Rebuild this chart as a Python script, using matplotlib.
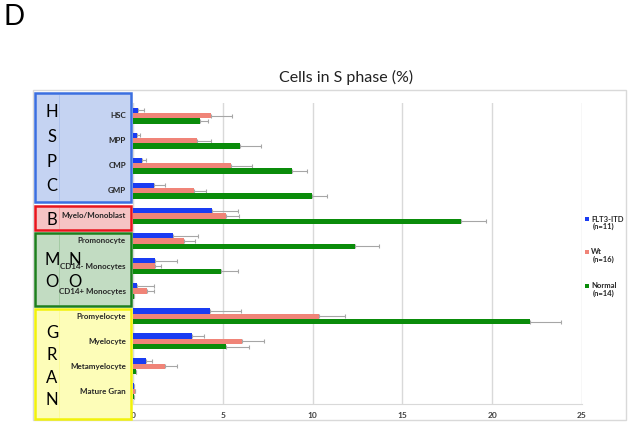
import matplotlib
matplotlib.use("Agg")
import matplotlib.pyplot as plt
import numpy as np
from matplotlib.patches import Rectangle
from matplotlib.lines import Line2D

plt.rcParams['font.family'] = ['Lato', 'DejaVu Sans']

# --- dados ---
categories = ['HSC', 'MPP', 'CMP', 'GMP', 'Myelo/Monoblast', 'Promonocyte',
              'CD14- Monocytes', 'CD14+ Monocytes', 'Promyelocyte', 'Myelocyte',
              'Metamyelocyte', 'Mature Gran']
flt3 = [0.28, 0.22, 0.52, 1.17, 4.42, 2.20, 1.20, 0.24, 4.31, 3.28, 0.72, 0.05]
flt3_err = [0.31, 0.18, 0.22, 0.61, 1.45, 1.41, 1.26, 0.94, 1.69, 0.68, 0.33, 0.0]
wt = [4.33, 3.54, 5.44, 3.42, 5.20, 2.83, 1.24, 0.79, 10.35, 6.05, 1.79, 0.10]
wt_err = [1.17, 0.81, 1.17, 0.65, 0.72, 0.63, 0.31, 0.38, 1.48, 1.23, 0.67, 0.0]
normal = [3.72, 5.94, 8.83, 9.94, 18.29, 12.37, 4.92, 0.07, 22.09, 5.18, 0.18, 0.03]
normal_err = [0.48, 1.20, 0.87, 0.86, 1.38, 1.30, 0.95, 0.0, 1.72, 1.26, 0.0, 0.0]
series_names = ['FLT3-ITD', 'Wt', 'Normal']
series_n = ['(n=11)', '(n=16)', '(n=14)']
xticks = [0, 5, 10, 15, 20, 25]

# grupos (caixas coloridas a esquerda)
groups = [
    {'letters': [('H', 0, 0), ('S', 0, 1), ('P', 0, 2), ('C', 0, 3)], 'rows': (0, 3)},
]

colors = ['#1a3cf2', '#f08478', '#0a8c0a']

W, H = 632, 426
fig = plt.figure(figsize=(W / 100, H / 100), dpi=100)


def fx(px):
    return px / W


def fy(py):
    return 1 - py / H


# borda da area do grafico
fig.add_artist(Rectangle((fx(33), fy(420)), fx(626) - fx(33), fy(90) - fy(420),
                         transform=fig.transFigure, fill=False, ec='#d9d9d9', lw=1))

ax = fig.add_axes([fx(133), fy(404), fx(582) - fx(133), fy(103) - fy(404)])

y = np.arange(len(categories))
h = 0.212
ekw = dict(fmt='none', ecolor='#a6a6a6', elinewidth=0.8, capsize=1.2, capthick=0.8)
for i, (vals, errs) in enumerate([(flt3, flt3_err), (wt, wt_err), (normal, normal_err)]):
    pos = y + (i - 1) * h
    ax.barh(pos, vals, height=h, color=colors[i], zorder=3)
    ax.errorbar(vals, pos, xerr=[np.zeros(len(errs)), errs], zorder=2, **ekw)

ax.set_xlim(0, 25)
ax.set_ylim(len(categories) - 0.5, -0.5)
ax.set_xticks(xticks)
ax.set_xticklabels([str(t) for t in xticks], fontsize=6, fontweight='bold', color='#404040')
ax.tick_params(axis='x', length=0, pad=6)
ax.set_yticks([])
ax.grid(axis='x', color='#d9d9d9', lw=1, zorder=0)
for s in ['top', 'right']:
    ax.spines[s].set_visible(False)
ax.spines['bottom'].set_color('#d9d9d9')
ax.spines['left'].set_color('#d9d9d9')

# titulo e letra do painel
fig.text(fx(346), fy(77), 'Cells in S phase (%)', fontsize=11.5, ha='center', va='center', color='#222222')
fig.text(fx(4), fy(17), 'D', fontsize=20, ha='left', va='center')

# caixas
boxes = [
    (93, 202, '#c5d3f2', '#3b6fe0'),
    (206, 230, '#f6c4c4', '#e8141c'),
    (233, 306, '#c2dcc2', '#1d7f1d'),
    (309, 419, '#fdfdb8', '#f2f20a'),
]
for top, bot, fc, ec in boxes:
    fig.add_artist(Rectangle((fx(35), fy(bot)), fx(131) - fx(35), fy(top) - fy(bot),
                             transform=fig.transFigure, fc=fc, ec=ec, lw=1.8, zorder=5))
    fig.add_artist(Line2D([fx(59), fx(59)], [fy(bot - 2), fy(top + 2)], transform=fig.transFigure,
                          color=ec, lw=0.5, alpha=0.25, zorder=6))

letters = [('H', 52, 112), ('S', 52, 137), ('P', 52, 162), ('C', 52, 186),
           ('B', 52, 220),
           ('M', 52, 260), ('N', 75, 260), ('O', 52, 282), ('O', 75, 282),
           ('G', 52, 333), ('R', 52, 355), ('A', 52, 378), ('N', 52, 400)]
for t, px, py in letters:
    fig.text(fx(px), fy(py), t, fontsize=12, ha='center', va='center', zorder=7)

# rotulos das categorias
for i, c in enumerate(categories):
    yp = ax.transData.transform((0, i))[1]
    fig.text(fx(126), yp / H, c, fontsize=5.8, fontweight='bold', ha='right', va='center',
             color='#262626', zorder=8)

# legenda
leg_y = [219, 252, 286]
for i in range(3):
    fig.add_artist(Rectangle((fx(585), fy(leg_y[i] + 2)), fx(4) - fx(0), fy(0) - fy(4),
                             transform=fig.transFigure, fc=colors[i], ec='none'))
    fig.text(fx(591), fy(leg_y[i]), series_names[i], fontsize=5.5, fontweight='bold',
             ha='left', va='center', color='#262626')
    fig.text(fx(593), fy(leg_y[i] + 7), series_n[i], fontsize=5.5, fontweight='bold',
             ha='left', va='center', color='#262626')

fig.savefig('out.png', dpi=100)
